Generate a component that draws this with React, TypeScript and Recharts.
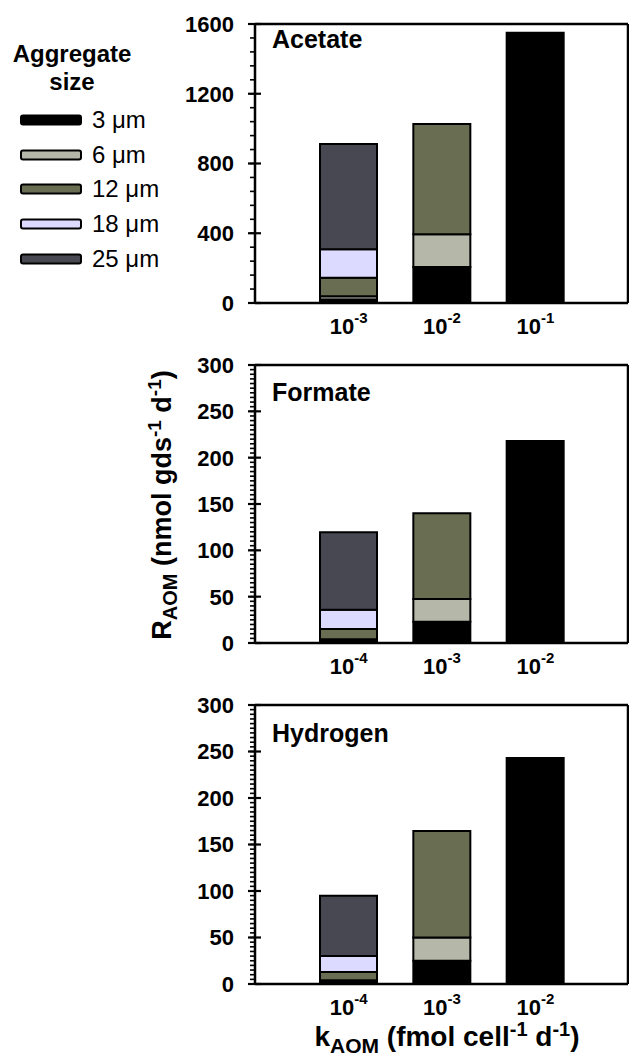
import { BarChart, Bar, XAxis, YAxis, ReferenceLine } from 'recharts';

const FONT = '"Liberation Sans", Arial, sans-serif';

const sizeLabels = ['3 μm', '6 μm', '12 μm', '18 μm', '25 μm'];
const sizeKeys = ['s3', 's6', 's12', 's18', 's25'];
const sizeColors = ['#000000', '#b5b7a8', '#696e52', '#dcdaff', '#484853'];

// acetate panel
const acetateK = ['-3', '-2', '-1'];
const acetate3 = [20, 206, 1550];
const acetate6 = [18, 188, 0];
const acetate12 = [107, 632, 0];
const acetate18 = [163, 0, 0];
const acetate25 = [604, 0, 0];
const acetateTicks = [0, 400, 800, 1200, 1600];

// formate panel
const formateK = ['-4', '-3', '-2'];
const formate3 = [2, 23, 218];
const formate6 = [2, 24.5, 0];
const formate12 = [11, 92.5, 0];
const formate18 = [21, 0, 0];
const formate25 = [83.5, 0, 0];

// hydrogen panel
const hydrogenK = ['-4', '-3', '-2'];
const hydrogen3 = [2, 25, 243];
const hydrogen6 = [2, 25, 0];
const hydrogen12 = [9, 114.5, 0];
const hydrogen18 = [17, 0, 0];
const hydrogen25 = [65, 0, 0];

const smallTicks = [0, 50, 100, 150, 200, 250, 300];

function buildRows(k: string[], cols: number[][]) {
  return k.map((kk, i) => {
    const row: Record<string, string | number> = { k: kk };
    sizeKeys.forEach((key, j) => {
      row[key] = cols[j][i];
    });
    return row;
  });
}

function minorTicks(max: number, step: number) {
  const out: number[] = [];
  for (let v = 0; v <= max + 1e-9; v += step) out.push(Math.round(v * 100) / 100);
  return out;
}

const panels = [
  {
    title: 'Acetate',
    rows: buildRows(acetateK, [acetate3, acetate6, acetate12, acetate18, acetate25]),
    max: 1600,
    majors: acetateTicks,
    minorStep: 80,
    top: 0,
    marginTop: 24,
    plotH: 279,
    titleY: 39,
  },
  {
    title: 'Formate',
    rows: buildRows(formateK, [formate3, formate6, formate12, formate18, formate25]),
    max: 300,
    majors: smallTicks,
    minorStep: 5,
    top: 340,
    marginTop: 25,
    plotH: 278,
    titleY: 52,
  },
  {
    title: 'Hydrogen',
    rows: buildRows(hydrogenK, [hydrogen3, hydrogen6, hydrogen12, hydrogen18, hydrogen25]),
    max: 300,
    majors: smallTicks,
    minorStep: 5,
    top: 680,
    marginTop: 25,
    plotH: 279,
    titleY: 53,
  },
];

const MINOR = 5;

// x here is the outer end of the built-in tick line (axis - MINOR)
function LeftTick(props: any) {
  const { x, y, payload, majors } = props;
  const v = payload.value;
  if (!majors.includes(v)) return <g />;
  return (
    <g>
      <line x1={x - 2} x2={x + MINOR + 6} y1={y} y2={y} stroke="#000" strokeWidth={2.2} />
      <text x={x - 16} y={y} dy="0.36em" textAnchor="end" fontFamily={FONT} fontWeight="bold" fontSize={22} fill="#000">
        {v}
      </text>
    </g>
  );
}

function XTick(props: any) {
  const { x, y, payload } = props;
  return (
    <text x={x} y={y + 31} textAnchor="middle" fontFamily={FONT} fontWeight="bold" fontSize={22} fill="#000">
      <tspan>10</tspan>
      <tspan dy={-11} fontSize={15}>{payload.value}</tspan>
    </text>
  );
}

function Panel({ p }: { p: (typeof panels)[number] }) {
  const height = p.marginTop + p.plotH + 42;
  return (
    <div style={{ position: 'absolute', left: 0, top: p.top, width: 629, height }}>
      <BarChart width={629} height={height} data={p.rows} margin={{ top: p.marginTop, right: 0, bottom: 0, left: 0 }} barSize={57}>
        <XAxis
          dataKey="k"
          xAxisId="x"
          padding={{ left: 47, right: 46 }}
          height={42}
          tickLine={false}
          tickSize={0}
          tickMargin={0}
          axisLine={{ stroke: '#000', strokeWidth: 2.5 }}
          tick={<XTick />}
          interval={0}
        />
        <YAxis
          yAxisId="l"
          width={255}
          type="number"
          domain={[0, p.max]}
          ticks={minorTicks(p.max, p.minorStep)}
          interval={0}
          tickLine={{ stroke: '#000', strokeWidth: 1.6 }}
          tickSize={MINOR}
          tickMargin={0}
          axisLine={{ stroke: '#000', strokeWidth: 2.5 }}
          tick={(tp: any) => <LeftTick {...tp} majors={p.majors} />}
        />
        <YAxis
          yAxisId="r"
          orientation="right"
          width={1}
          type="number"
          domain={[0, p.max]}
          ticks={p.majors}
          interval={0}
          tickLine={{ stroke: '#000', strokeWidth: 2.2 }}
          tickSize={-6}
          tickMargin={0}
          axisLine={{ stroke: '#000', strokeWidth: 2.5 }}
          tick={() => <g />}
        />
        <ReferenceLine yAxisId="l" xAxisId="x" y={p.max} stroke="#000" strokeWidth={2.5} />
        {sizeKeys.map((key, j) => (
          <Bar
            key={key}
            dataKey={key}
            name={sizeLabels[j]}
            stackId="a"
            xAxisId="x"
            yAxisId="l"
            fill={sizeColors[j]}
            stroke="#000"
            strokeWidth={2}
            isAnimationActive={false}
          />
        ))}
      </BarChart>
      <div
        style={{
          position: 'absolute',
          left: 272,
          top: p.titleY,
          transform: 'translateY(-50%)',
          fontFamily: FONT,
          fontWeight: 'bold',
          fontSize: 25,
          lineHeight: 1,
        }}
      >
        {p.title}
      </div>
    </div>
  );
}

function SizeLegend() {
  return (
    <div style={{ position: 'absolute', left: 0, top: 0, width: 200, fontFamily: FONT }}>
      <div style={{ position: 'absolute', left: 0, width: 144, top: 40, textAlign: 'center', fontWeight: 'bold', fontSize: 24, lineHeight: '28px' }}>
        Aggregate
        <br />
        size
      </div>
      {sizeLabels.map((lab, j) => (
        <div key={lab} style={{ position: 'absolute', left: 20, top: 120 + j * 34.7 - 14, height: 28, display: 'flex', alignItems: 'center' }}>
          <svg width={62} height={12} style={{ display: 'block' }}>
            <rect x={1} y={1.5} width={60} height={9} rx={2} fill={sizeColors[j]} stroke="#000" strokeWidth={2} />
          </svg>
          <span style={{ marginLeft: 10, fontSize: 24, lineHeight: '28px' }}>{lab}</span>
        </div>
      ))}
    </div>
  );
}

export default function App() {
  return (
    <div style={{ position: 'absolute', left: 0, top: 0, width: 629, height: 1059, background: '#fff', overflow: 'hidden' }}>
      {panels.map((p) => (
        <Panel key={p.title} p={p} />
      ))}
      <SizeLegend />
      <div
        style={{
          position: 'absolute',
          left: 163,
          top: 505,
          transform: 'translate(-50%, -50%) rotate(-90deg)',
          whiteSpace: 'nowrap',
          fontFamily: FONT,
          fontWeight: 'bold',
          fontSize: 27,
        }}
      >
        R<sub style={{ fontSize: 20 }}>AOM</sub> (nmol gds<sup style={{ fontSize: 19 }}>-1</sup> d<sup style={{ fontSize: 19 }}>-1</sup>)
      </div>
      <div
        style={{
          position: 'absolute',
          left: 447,
          top: 1038,
          transform: 'translate(-50%, -50%)',
          whiteSpace: 'nowrap',
          fontFamily: FONT,
          fontWeight: 'bold',
          fontSize: 28,
        }}
      >
        k<sub style={{ fontSize: 21 }}>AOM</sub> (fmol cell<sup style={{ fontSize: 20 }}>-1</sup> d<sup style={{ fontSize: 20 }}>-1</sup>)
      </div>
    </div>
  );
}
